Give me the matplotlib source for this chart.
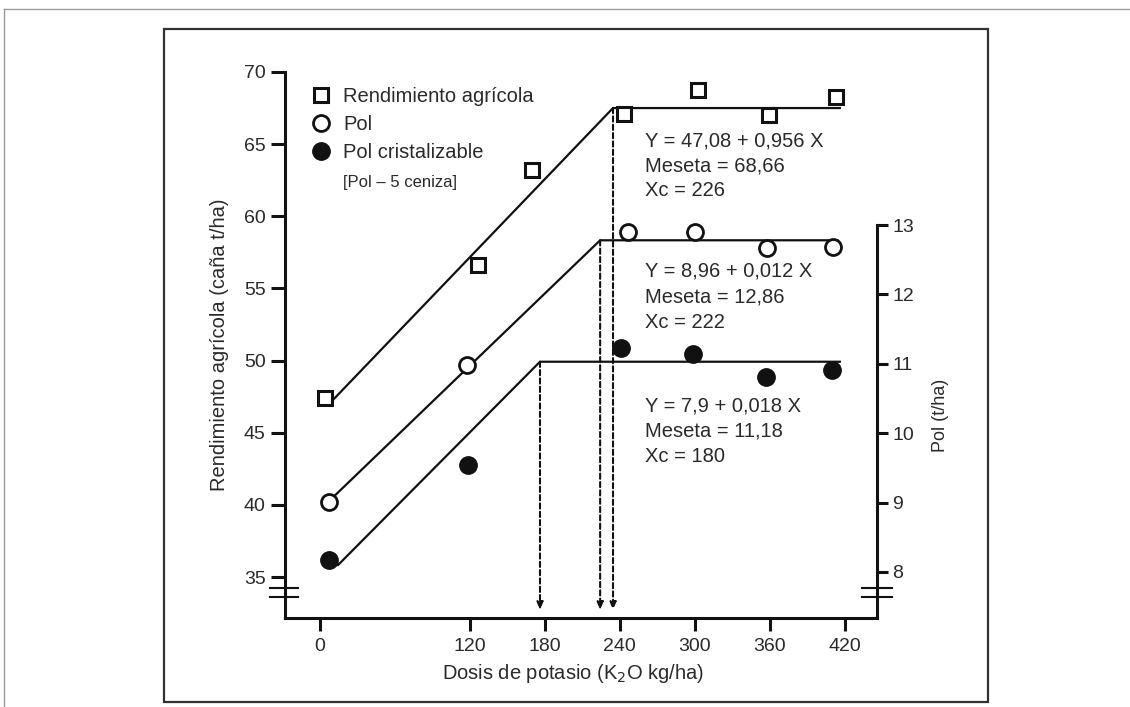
import matplotlib.pyplot as plt
from matplotlib.lines import Line2D
from matplotlib.patches import Rectangle

plt.rcParams['font.family'] = ['Liberation Sans', 'DejaVu Sans']

# dosis de K2O (kg/ha) y respuestas
dosis_rend = [4.3, 126.6, 169.9, 243.4, 302.6, 359.4, 413.0]
rendimiento = [47.4, 56.6, 63.2, 67.1, 68.75, 67.0, 68.3]
dosis_pol = [7.5, 117.8, 246.8, 300.0, 357.9, 410.6]
pol = [9.01, 10.98, 12.90, 12.90, 12.67, 12.68]
dosis_cris = [7.5, 118.6, 241.0, 298.6, 357.0, 409.7]
pol_cris = [8.17, 9.54, 11.23, 11.14, 10.81, 10.91]

# modelo lineal-meseta como esta dibujado
rend_fit_x = [8.3, 234.6, 416.0]
rend_fit_y = [47.06, 67.5, 67.5]
pol_fit_x = [10.9, 224.3, 414.0]
pol_fit_y = [9.08, 12.78, 12.78]
cris_fit_x = [14.7, 176.2, 416.0]
cris_fit_y = [8.10, 11.03, 11.03]

x_ticks = [0, 120, 180, 240, 300, 360, 420]
rend_ticks = [35, 40, 45, 50, 55, 60, 65, 70]
pol_ticks = [8, 9, 10, 11, 12, 13]

eq_rend = ['Y = 47,08 + 0,956 X', 'Meseta = 68,66', 'Xc = 226']
eq_pol = ['Y = 8,96 + 0,012 X', 'Meseta = 12,86', 'Xc = 222']
eq_cris = ['Y = 7,9 + 0,018 X', 'Meseta = 11,18', 'Xc = 180']

ink = '#111111'
txt = '#2a2a2a'
W, H = 1130, 707

fig = plt.figure(figsize=(W / 100, H / 100), dpi=100)
ax = fig.add_axes([285 / W, 1 - 618 / H, 592 / W, 558 / H])
ax2 = ax.twinx()

ax.set_xlim(-27.7, 445.7)
ax.set_ylim(32.16, 70.83)
ax2.set_ylim(7.337, 15.378)

# lineas del modelo
ax.plot(rend_fit_x, rend_fit_y, color=ink, lw=1.6, zorder=2)
ax2.plot(pol_fit_x, pol_fit_y, color=ink, lw=1.6, zorder=2)
ax2.plot(cris_fit_x, cris_fit_y, color=ink, lw=1.6, zorder=2)

# puntos observados
sq = dict(marker='s', ls='none', ms=9.5, mfc='white', mec=ink, mew=2.2)
oc = dict(marker='o', ls='none', ms=11.5, mfc='white', mec=ink, mew=2.0)
fc = dict(marker='o', ls='none', ms=12.5, mfc=ink, mec=ink, mew=1.0)
ax.plot(dosis_rend, rendimiento, zorder=3, **sq)
ax2.plot(dosis_pol, pol, zorder=3, **oc)
ax2.plot(dosis_cris, pol_cris, zorder=3, **fc)

# flechas punteadas hacia Xc
arrow = dict(arrowstyle='-|>,head_length=0.45,head_width=0.18', color=ink,
             lw=1.5, ls=(0, (2.5, 1.5)), shrinkA=0, shrinkB=0)
for axis, xs, ys in [(ax2, cris_fit_x, cris_fit_y), (ax2, pol_fit_x, pol_fit_y),
                     (ax, rend_fit_x, rend_fit_y)]:
    axis.annotate('', xy=(xs[1], 0.014), xycoords=('data', 'axes fraction'),
                  xytext=(xs[1], ys[1]), textcoords='data', arrowprops=arrow)

# ecuaciones
for lines, ys in [(eq_rend, [65.25, 63.45, 61.82]),
                  (eq_pol, [56.24, 54.44, 52.67]),
                  (eq_cris, [46.85, 45.09, 43.35])]:
    for s, y in zip(lines, ys):
        ax.text(260, y, s, fontsize=14.5, color=txt, va='center', ha='left')

# ejes
for s in ['top', 'right']:
    ax.spines[s].set_visible(False)
for s in ['top', 'left', 'bottom']:
    ax2.spines[s].set_visible(False)
ax.spines['left'].set_bounds(32.16, 70)
ax2.spines['right'].set_bounds(7.337, 13)
for sp in [ax.spines['left'], ax.spines['bottom'], ax2.spines['right']]:
    sp.set_linewidth(2.2)
    sp.set_color(ink)

ax.set_xticks(x_ticks)
ax.set_yticks(rend_ticks)
ax2.set_yticks(pol_ticks)
ax.tick_params(axis='y', direction='out', length=10, width=2.2, pad=4,
               labelsize=14, labelcolor=txt, color=ink)
ax.tick_params(axis='x', direction='out', length=9.5, width=2.2, pad=5,
               labelsize=14, labelcolor=txt, color=ink)
ax2.tick_params(axis='y', direction='out', length=8, width=2.2, pad=3,
                labelsize=14, labelcolor=txt, color=ink)

ax.set_xlabel('Dosis de potasio (K$_2$O kg/ha)', fontsize=14.5, color=txt)
ax.xaxis.set_label_coords(0.487, -0.0986)
ax.xaxis.label.set_va('center')
ax.set_ylabel('Rendimiento agrícola (caña t/ha)', fontsize=14.5, color=txt)
ax.yaxis.set_label_coords(-0.11, 0.49)
ax.yaxis.label.set_va('center')
ax2.set_ylabel('Pol (t/ha)', fontsize=13, color=txt)
ax2.yaxis.set_label_coords(1.108, 0.364)
ax2.yaxis.label.set_va('center')

# cortes de eje
for y in [0.0538, 0.0376]:
    ax.plot([-15 / 592, 13 / 592], [y, y], transform=ax.transAxes,
            clip_on=False, color=ink, lw=1.5)
    ax.plot([577 / 592, 607 / 592], [y, y], transform=ax.transAxes,
            clip_on=False, color=ink, lw=1.5)

# leyenda
handles = [Line2D([], [], **sq), Line2D([], [], **oc), Line2D([], [], **fc)]
labels = ['Rendimiento agrícola', 'Pol', 'Pol cristalizable']
leg = ax2.legend(handles, labels, loc='upper left', frameon=False,
                 bbox_to_anchor=(311 / W, 1 - 87 / H), bbox_transform=fig.transFigure,
                 borderaxespad=0, borderpad=0, handlelength=1.0, handletextpad=0.6,
                 labelspacing=0.45, fontsize=14.5, numpoints=1)
for t in leg.get_texts():
    t.set_color(txt)
fig.text(343 / W, 1 - 183 / H, '[Pol – 5 ceniza]', fontsize=12, color=txt,
         va='center', ha='left')

# marcos de la figura
fig.add_artist(Rectangle((164 / W, 1 - 702 / H), (988 - 164) / W, (702 - 29) / H,
                         fill=False, ec='#333333', lw=1.6, transform=fig.transFigure))
fig.add_artist(Line2D([4 / W, 1], [1 - 9 / H, 1 - 9 / H], color='#9a9a9a', lw=1,
                      transform=fig.transFigure))
fig.add_artist(Line2D([4 / W, 4 / W], [0, 1 - 9 / H], color='#9a9a9a', lw=1,
                      transform=fig.transFigure))

fig.savefig('out.png', dpi=100)
